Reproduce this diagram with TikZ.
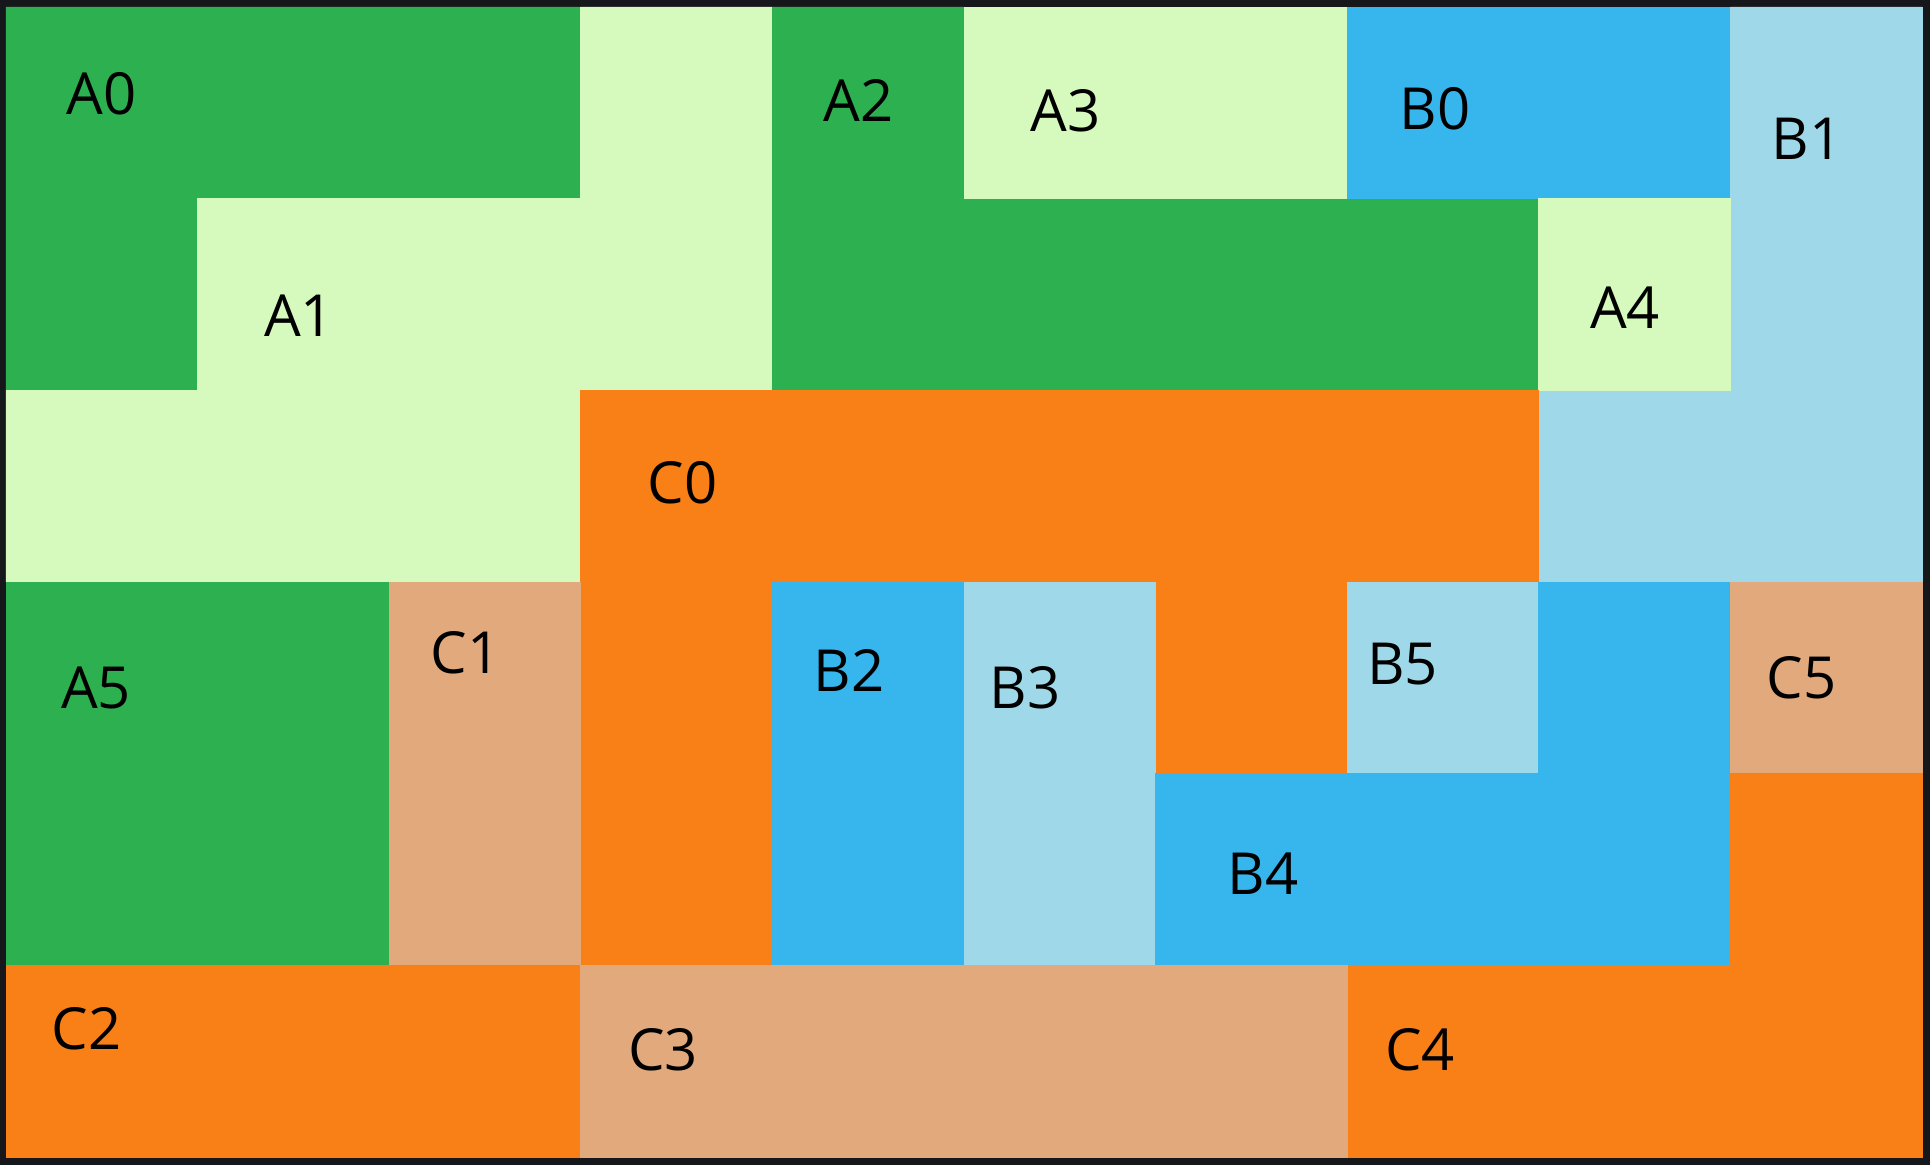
\documentclass[tikz,border=0pt]{standalone}
\usepackage{fontspec}
\setmainfont{Open Sans}
\definecolor{frame}{HTML}{16171B}
\definecolor{darkgreen}{HTML}{2DB04F}
\definecolor{lightgreen}{HTML}{D6F9BE}
\definecolor{blue}{HTML}{37B6EE}
\definecolor{lightblue}{HTML}{9FD9E9}
\definecolor{orange}{HTML}{F98016}
\definecolor{tan}{HTML}{E2AA7C}

\begin{document}
\begin{tikzpicture}[x=191.6bp,y=-191.7bp]
  \tikzset{PieceStyle/.style={fill=#1,draw=#1,line width=0.8bp,line join=miter},
    LabelStyle/.style={font=\fontsize{58bp}{70bp}\selectfont,inner sep=0pt}
  }
  \fill[frame] (-0.0313,-0.0365) rectangle (10.0418,6.0407);
  % pieces, in grid units (column, row)
  \path[PieceStyle=darkgreen] (0,0) -- (3,0) -- (3,1) -- (1,1) -- (1,2) -- (0,2) -- cycle;
  \path[PieceStyle=lightgreen] (3,0) -- (4,0) -- (4,2) -- (3,2) -- (3,3) -- (0,3) -- (0,2) -- (1,2) -- (1,1) -- (3,1) -- cycle;
  \path[PieceStyle=darkgreen] (4,0) -- (5,0) -- (5,1) -- (8,1) -- (8,2) -- (4,2) -- cycle;
  \path[PieceStyle=lightgreen] (5,0) rectangle (7,1);
  \path[PieceStyle=blue] (7,0) rectangle (9,1);
  \path[PieceStyle=lightblue] (9,0) -- (10,0) -- (10,3) -- (8,3) -- (8,2) -- (9,2) -- cycle;
  \path[PieceStyle=lightgreen] (8,1) rectangle (9,2);
  \path[PieceStyle=orange] (3,2) -- (8,2) -- (8,3) -- (7,3) -- (7,4) -- (6,4) -- (6,3) -- (4,3) -- (4,5) -- (3,5) -- cycle;
  \path[PieceStyle=darkgreen] (0,3) rectangle (2,5);
  \path[PieceStyle=tan] (2,3) rectangle (3,5);
  \path[PieceStyle=blue] (4,3) rectangle (5,5);
  \path[PieceStyle=lightblue] (5,3) rectangle (6,5);
  \path[PieceStyle=lightblue] (7,3) rectangle (8,4);
  \path[PieceStyle=blue] (8,3) -- (9,3) -- (9,5) -- (6,5) -- (6,4) -- (8,4) -- cycle;
  \path[PieceStyle=tan] (9,3) rectangle (10,4);
  \path[PieceStyle=orange] (9,4) -- (10,4) -- (10,6) -- (7,6) -- (7,5) -- (9,5) -- cycle;
  \path[PieceStyle=orange] (0,5) rectangle (3,6);
  \path[PieceStyle=tan] (3,5) rectangle (7,6);
  % labels
  \foreach \name/\x/\y in {A0/0.50/0.45, A1/1.53/1.61, A2/4.45/0.49, A3/5.53/0.54,
      B0/7.46/0.53, B1/9.40/0.69, A4/8.45/1.57, C0/3.53/2.48, A5/0.47/3.55,
      C1/2.40/3.37, B2/4.40/3.46, B3/5.32/3.55, B5/7.29/3.43, C5/9.37/3.50,
      B4/6.56/4.52, C2/0.42/5.33, C3/3.43/5.44, C4/7.38/5.44}
    \node[LabelStyle] (\name) at (\x,\y) {\name};
\end{tikzpicture}
\end{document}
